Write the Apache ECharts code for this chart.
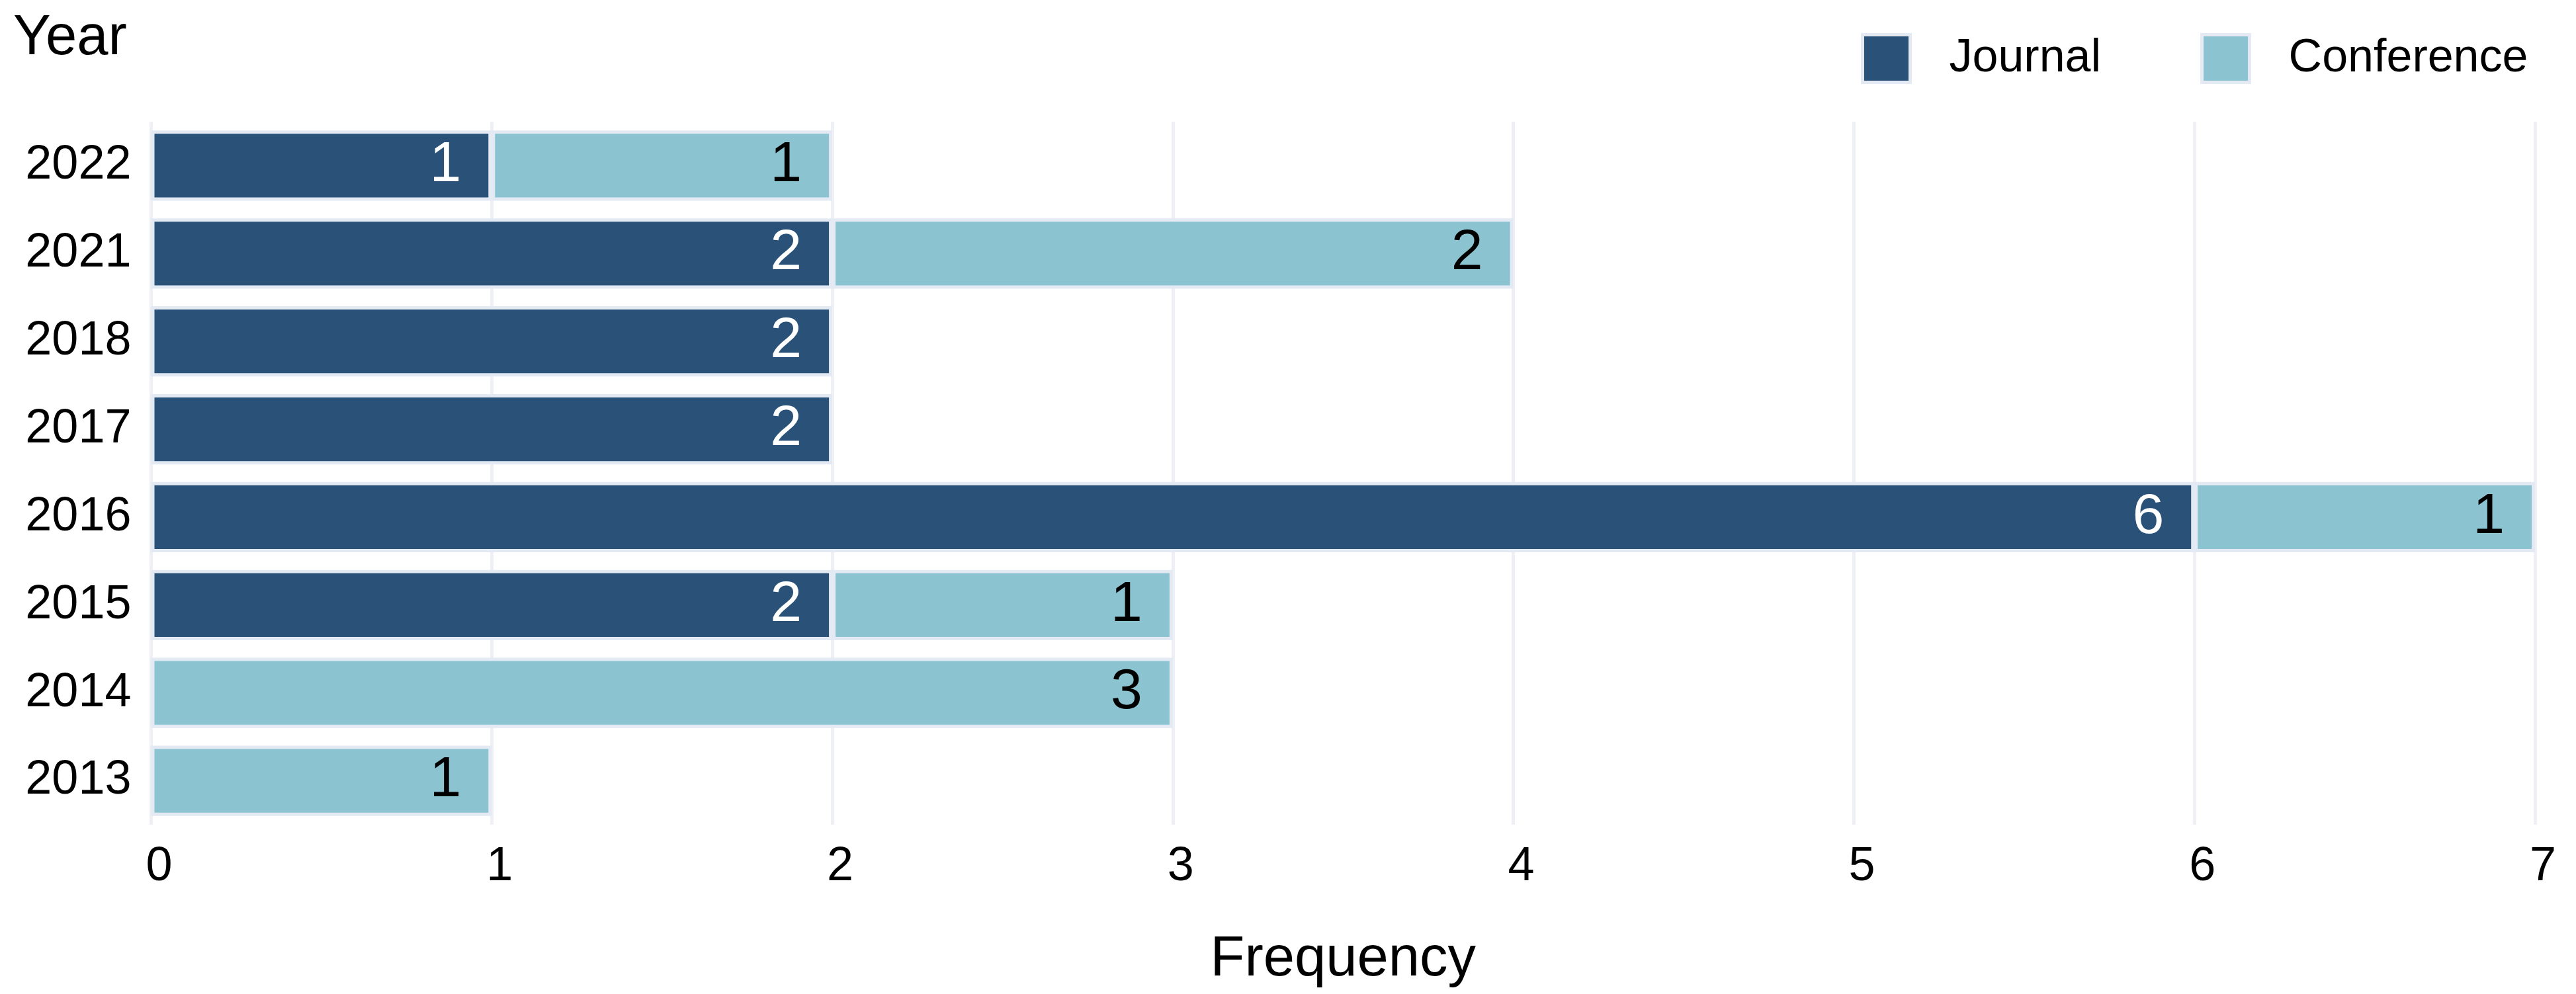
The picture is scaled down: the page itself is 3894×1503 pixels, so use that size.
<!DOCTYPE html>
<html>
<head>
<meta charset="utf-8">
<script src="https://cdn.jsdelivr.net/npm/echarts@6/dist/echarts.min.js"></script>
<style>
html,body{margin:0;padding:0;background:#fff;}
#chart{width:3894px;height:1503px;}
</style>
</head>
<body>
<div id="chart"></div>
<script>
// Data (top to bottom)
const years = ['2022', '2021', '2018', '2017', '2016', '2015', '2014', '2013'];
const journal = [1, 2, 2, 2, 6, 2, 0, 0];
const conference = [1, 2, 0, 0, 1, 1, 3, 1];
const xTicks = [0, 1, 2, 3, 4, 5, 6, 7];

const FONT = '"Liberation Sans", Arial, Helvetica, sans-serif';
const toData = arr => arr.map(v => (v === 0 ? null : v));

const chart = echarts.init(document.getElementById('chart'), null, {renderer: 'canvas'});

const labelCommon = {
  show: true,
  position: 'insideRight',
  distance: 46,
  fontSize: 86,
  fontFamily: FONT,
  formatter: p => (p.value == null ? '' : String(p.value))
};

chart.setOption({
  backgroundColor: '#ffffff',
  animation: false,
  grid: {left: 228.5, right: 62, top: 184, bottom: 256, containLabel: false},
  legend: {
    left: 2808,
    top: 45,
    icon: 'rect',
    itemWidth: 72,
    itemHeight: 72,
    itemGap: 150,
    itemStyle: {borderColor: '#e4eaf4', borderWidth: 5},
    textStyle: {fontSize: 70, fontFamily: FONT, color: '#000', padding: [0, 0, 0, 54]},
    data: ['Journal', 'Conference']
  },
  graphic: [{
    type: 'text',
    left: 20,
    top: 16,
    style: {text: 'Year', fontSize: 85, fontFamily: FONT, fill: '#000'}
  }],
  xAxis: {
    type: 'value',
    min: xTicks[0],
    max: xTicks[xTicks.length - 1],
    interval: 1,
    name: 'Frequency',
    nameLocation: 'middle',
    nameGap: 162,
    nameTextStyle: {fontSize: 85, fontFamily: FONT, color: '#000'},
    axisLine: {show: false},
    axisTick: {show: false},
    axisLabel: {fontSize: 72, fontFamily: FONT, color: '#000', margin: 28, padding: [0, 0, 0, 24]},
    splitLine: {show: true, lineStyle: {color: '#eff0f6', width: 5}}
  },
  yAxis: {
    type: 'category',
    inverse: true,
    data: years,
    axisLine: {show: false},
    axisTick: {show: false},
    axisLabel: {fontSize: 72, fontFamily: FONT, color: '#000', margin: 30},
    splitLine: {show: false}
  },
  series: [
    {
      name: 'Journal',
      type: 'bar',
      stack: 'total',
      barWidth: '80%',
      data: toData(journal),
      itemStyle: {color: '#2a5279', borderColor: '#e4eaf4', borderWidth: 5},
      label: Object.assign({}, labelCommon, {color: '#ffffff'})
    },
    {
      name: 'Conference',
      type: 'bar',
      stack: 'total',
      barWidth: '80%',
      data: toData(conference),
      itemStyle: {color: '#8bc4d0', borderColor: '#e4eaf4', borderWidth: 5},
      label: Object.assign({}, labelCommon, {color: '#000000'})
    }
  ]
});
</script>
</body>
</html>
